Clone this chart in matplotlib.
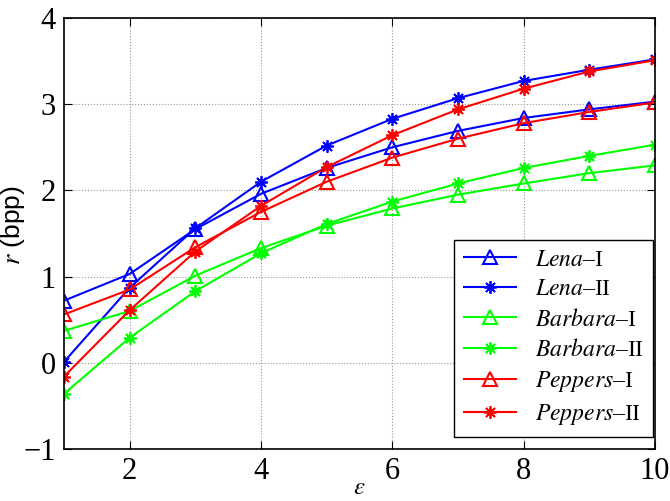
import matplotlib
matplotlib.use("Agg")
import matplotlib.pyplot as plt

plt.rcParams['font.family'] = 'Liberation Serif'
plt.rcParams['mathtext.fontset'] = 'stix'

eps = [1, 2, 3, 4, 5, 6, 7, 8, 9, 10]

lena_1 = [0.72, 1.03, 1.55, 1.96, 2.26, 2.50, 2.69, 2.84, 2.94, 3.03]
lena_2 = [0.01, 0.87, 1.56, 2.10, 2.52, 2.83, 3.07, 3.27, 3.40, 3.52]
barbara_1 = [0.37, 0.60, 1.01, 1.33, 1.59, 1.79, 1.95, 2.08, 2.20, 2.29]
barbara_2 = [-0.36, 0.29, 0.83, 1.27, 1.61, 1.87, 2.08, 2.26, 2.40, 2.53]
peppers_1 = [0.56, 0.85, 1.34, 1.75, 2.10, 2.38, 2.60, 2.78, 2.91, 3.02]
peppers_2 = [-0.16, 0.61, 1.29, 1.82, 2.27, 2.64, 2.94, 3.18, 3.38, 3.51]

labels = [r'$\mathit{Lena}$' + '\u2013I', r'$\mathit{Lena}$' + '\u2013II',
          r'$\mathit{Barbara}$' + '\u2013I', r'$\mathit{Barbara}$' + '\u2013II',
          r'$\mathit{Peppers}$' + '\u2013I', r'$\mathit{Peppers}$' + '\u2013II']

fig = plt.figure(figsize=(6.7, 5.01), dpi=100)
ax = fig.add_axes([0.0955, 0.104, 0.882, 0.86])

ast = (8, 2, 0)
series = [
    (lena_1, 'b', '^'), (lena_2, 'b', ast),
    (barbara_1, '#00ff00', '^'), (barbara_2, '#00ff00', ast),
    (peppers_1, 'r', '^'), (peppers_2, 'r', ast),
]
for (vals, c, m), lab in zip(series, labels):
    if m == '^':
        ax.plot(eps, vals, color=c, marker=m, markersize=10, markerfacecolor='none',
                markeredgewidth=1.5, linewidth=1.5, label=lab)
    else:
        ax.plot(eps, vals, color=c, marker=m, markersize=9, markeredgewidth=1.3,
                linewidth=1.5, label=lab)

ax.set_xlim(1, 10)
ax.set_ylim(-1, 4)
ax.set_xticks([2, 4, 6, 8, 10])
ax.set_yticks([-1, 0, 1, 2, 3, 4])
ax.set_yticklabels(['\u22121', '0', '1', '2', '3', '4'])
ax.tick_params(direction='in', top=True, right=True, labelsize=22, length=6, pad=6)
ax.grid(True, linestyle=':', color='#999999', linewidth=0.8)
for s in ax.spines.values():
    s.set_linewidth(1.2)

ax.set_xlabel(r'$\varepsilon$', fontsize=18)
ax.xaxis.set_label_coords(0.5, -0.066)
ax.set_ylabel(r'$r$' + ' (bpp)', fontsize=19, family=['Liberation Sans'])
ax.yaxis.set_label_coords(-0.062, 0.52)

leg = ax.legend(loc='lower right', bbox_to_anchor=(0.9966, 0.028), borderaxespad=0,
                fontsize=17, fancybox=False, edgecolor='black',
                framealpha=1, handlelength=2.2, labelspacing=0.35)
leg.get_frame().set_linewidth(1.0)

fig.savefig('out.png', dpi=100)
